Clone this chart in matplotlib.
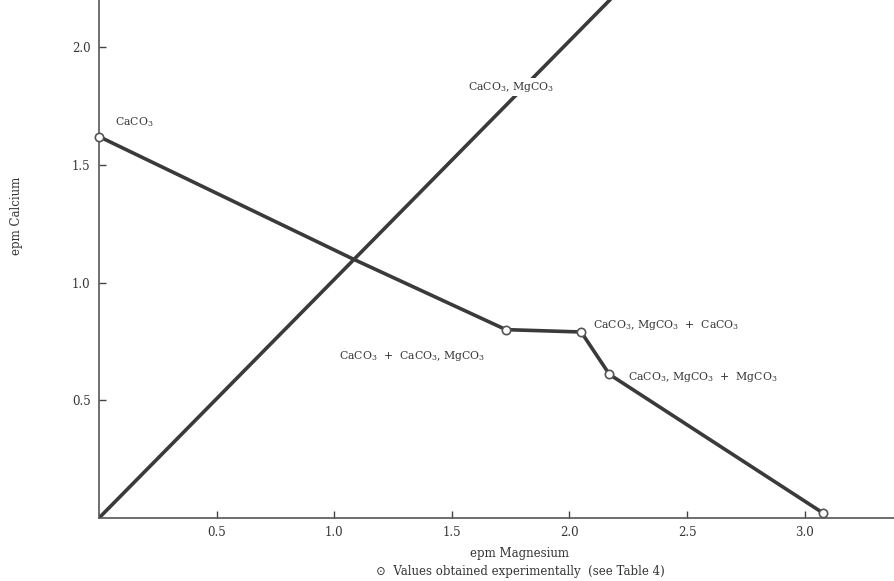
import matplotlib
matplotlib.use("Agg")
import matplotlib.pyplot as plt

plt.rcParams['font.family'] = ['DejaVu Serif']
plt.rcParams['mathtext.fontset'] = 'dejavuserif'

# solubility boundary (epm Mg vs epm Ca)
mg_line = [0, 1.08, 1.73, 2.05, 2.17, 3.08]
ca_line = [1.62, 1.10, 0.80, 0.79, 0.61, 0.02]

# experimental points (open circles)
mg_pts = [0, 1.73, 2.05, 2.17, 3.08]
ca_pts = [1.62, 0.80, 0.79, 0.61, 0.02]

# dolomite ratio line
mg_diag = [0, 2.30]
ca_diag = [0, 2.33]

x_ticks = [0.5, 1.0, 1.5, 2.0, 2.5, 3.0]
y_ticks = [0.5, 1.0, 1.5, 2.0]

# x, y, text, sits on a line (needs white box)
labels = [
    (0.07, 1.68, r'CaCO$_3$', False),
    (1.57, 1.83, r'CaCO$_3$, MgCO$_3$', True),
    (1.02, 0.69, r'CaCO$_3$  +  CaCO$_3$, MgCO$_3$', False),
    (2.10, 0.82, r'CaCO$_3$, MgCO$_3$  +  CaCO$_3$', False),
    (2.25, 0.60, r'CaCO$_3$, MgCO$_3$  +  MgCO$_3$', False),
]

line_col = '#3a3a3a'
text_col = '#333333'

fig = plt.figure(figsize=(8.94, 5.81), dpi=100)
ax = fig.add_axes([99 / 894, 63 / 581, 795 / 894, 518 / 581])

ax.plot(mg_diag, ca_diag, color=line_col, lw=2.6, solid_capstyle='butt')
ax.plot(mg_line, ca_line, color=line_col, lw=2.6)
ax.plot(mg_pts, ca_pts, 'o', ms=6, mfc='white', mec='#555555', mew=1.2,
        clip_on=False, zorder=5)

for x, y, t, boxed in labels:
    box = dict(fc='white', ec='none', pad=1.5) if boxed else None
    ax.text(x, y, t, fontsize=7.8, color=text_col, va='center', ha='left',
            zorder=6, bbox=box)

ax.set_xlim(0, 3.38)
ax.set_ylim(0, 2.2)
ax.set_xticks(x_ticks)
ax.set_yticks(y_ticks)
ax.set_xticklabels(['%.1f' % v for v in x_ticks])
ax.set_yticklabels(['%.1f' % v for v in y_ticks])
ax.tick_params(direction='in', length=5, width=1, colors='#444444',
               labelsize=8.5, labelcolor=text_col, pad=6)

for s in ['top', 'right']:
    ax.spines[s].set_visible(False)
for s in ['left', 'bottom']:
    ax.spines[s].set_color('#555555')
    ax.spines[s].set_linewidth(1.2)

fig.text(520 / 894, 1 - 553 / 581, 'epm Magnesium', ha='center', va='center',
         fontsize=8.5, color=text_col)
fig.text(520 / 894, 1 - 571 / 581,
         u'\u2299  Values obtained experimentally  (see Table 4)',
         ha='center', va='center', fontsize=8.5, color=text_col)
fig.text(17 / 894, 1 - 216 / 581, 'epm Calcium', ha='center', va='center',
         rotation=90, fontsize=8.5, color=text_col)

fig.savefig('out.png', dpi=100)
